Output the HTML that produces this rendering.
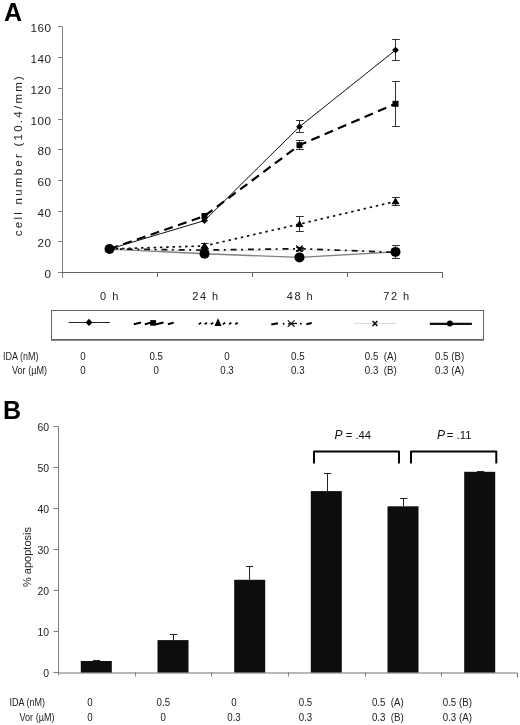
<!DOCTYPE html>
<html><head><meta charset="utf-8"><style>
html,body{margin:0;padding:0;background:#fff;}
svg{display:block;font-family:"Liberation Sans", sans-serif;filter:grayscale(1);}
text{white-space:pre;}
</style></head><body>
<svg width="520" height="725" viewBox="0 0 520 725" xml:space="preserve">
<rect width="520" height="725" fill="#fff"/>
<text x="4" y="20.8" font-size="25" font-weight="bold" fill="#000">A</text>
<path d="M62.5 26.5 V278.0" stroke="#808080" stroke-width="1" fill="none"/>
<path d="M62 272.5 H442.5 V278.0" stroke="#606060" stroke-width="1" fill="none"/>
<path d="M58 272.5 H62" stroke="#808080" stroke-width="1"/>
<text x="51.3" y="278.1" font-size="11.7" text-anchor="end" letter-spacing="0.4" fill="#222">0</text>
<path d="M58 241.5 H62" stroke="#808080" stroke-width="1"/>
<text x="51.3" y="247.1" font-size="11.7" text-anchor="end" letter-spacing="0.4" fill="#222">20</text>
<path d="M58 211.5 H62" stroke="#808080" stroke-width="1"/>
<text x="51.3" y="217.1" font-size="11.7" text-anchor="end" letter-spacing="0.4" fill="#222">40</text>
<path d="M58 180.5 H62" stroke="#808080" stroke-width="1"/>
<text x="51.3" y="186.1" font-size="11.7" text-anchor="end" letter-spacing="0.4" fill="#222">60</text>
<path d="M58 149.5 H62" stroke="#808080" stroke-width="1"/>
<text x="51.3" y="155.1" font-size="11.7" text-anchor="end" letter-spacing="0.4" fill="#222">80</text>
<path d="M58 119.5 H62" stroke="#808080" stroke-width="1"/>
<text x="51.3" y="125.1" font-size="11.7" text-anchor="end" letter-spacing="0.4" fill="#222">100</text>
<path d="M58 88.5 H62" stroke="#808080" stroke-width="1"/>
<text x="51.3" y="94.1" font-size="11.7" text-anchor="end" letter-spacing="0.4" fill="#222">120</text>
<path d="M58 57.5 H62" stroke="#808080" stroke-width="1"/>
<text x="51.3" y="63.1" font-size="11.7" text-anchor="end" letter-spacing="0.4" fill="#222">140</text>
<path d="M58 26.5 H62" stroke="#808080" stroke-width="1"/>
<text x="51.3" y="32.1" font-size="11.7" text-anchor="end" letter-spacing="0.4" fill="#222">160</text>
<path d="M157.5 272.0 V277.0" stroke="#606060" stroke-width="1"/>
<path d="M252.5 272.0 V277.0" stroke="#606060" stroke-width="1"/>
<path d="M347.5 272.0 V277.0" stroke="#606060" stroke-width="1"/>
<text x="110" y="299.8" font-size="11" text-anchor="middle" letter-spacing="1.5" fill="#222">0 h</text>
<text x="206" y="299.8" font-size="11" text-anchor="middle" letter-spacing="1.5" fill="#222">24 h</text>
<text x="300.5" y="299.8" font-size="11" text-anchor="middle" letter-spacing="1.5" fill="#222">48 h</text>
<text x="397" y="299.8" font-size="11" text-anchor="middle" letter-spacing="1.5" fill="#222">72 h</text>
<text transform="translate(21.5,155) rotate(-90)" font-size="11.5" text-anchor="middle" letter-spacing="2.25" fill="#222">cell number (10.4/mm)</text>
<polyline points="109.5,249.0 204.5,253.7 299.5,257.4 395.5,251.9" fill="none" stroke="#808080" stroke-width="1.4"/>
<polyline points="109.5,249.0 204.5,251.3 299.5,249.8 395.5,251.3" fill="none" stroke="#ddd" stroke-width="1"/>
<polyline points="109.5,249.0 204.5,250.1 299.5,248.7 395.5,252.4" fill="none" stroke="#111" stroke-width="1.7" stroke-dasharray="6 4.5 2 4.8"/>
<polyline points="109.5,249.0 204.5,245.9 299.5,224.1 395.5,201.4" fill="none" stroke="#111" stroke-width="1.7" stroke-dasharray="2.5 3.8"/>
<polyline points="109.5,249.0 204.5,216.0 299.5,145.1 395.5,103.8" fill="none" stroke="#000" stroke-width="2.2" stroke-dasharray="9 5.5"/>
<polyline points="109.5,249.0 204.5,220.6 299.5,126.7 395.5,50.1" fill="none" stroke="#111" stroke-width="1"/>
<path d="M299.5 120.5 V132.5 M295.9 120.5 H303.8 M295.9 132.5 H303.8" stroke="#333" stroke-width="1"/>
<path d="M395.5 39.5 V60.5 M391.9 39.5 H399.8 M391.9 60.5 H399.8" stroke="#333" stroke-width="1"/>
<path d="M299.5 140.5 V149.5 M295.9 140.5 H303.8 M295.9 149.5 H303.8" stroke="#333" stroke-width="1"/>
<path d="M395.5 81.5 V126.5 M391.9 81.5 H399.8 M391.9 126.5 H399.8" stroke="#333" stroke-width="1"/>
<path d="M204.5 243.5 V248.5 M200.9 243.5 H208.8 M200.9 248.5 H208.8" stroke="#333" stroke-width="1"/>
<path d="M299.5 216.5 V231.5 M295.9 216.5 H303.8 M295.9 231.5 H303.8" stroke="#333" stroke-width="1"/>
<path d="M395.5 197.5 V205.5 M391.9 197.5 H399.8 M391.9 205.5 H399.8" stroke="#333" stroke-width="1"/>
<path d="M299.5 247.5 V250.5 M295.9 247.5 H303.8 M295.9 250.5 H303.8" stroke="#333" stroke-width="1"/>
<path d="M204.5 251.5 V256.5 M200.9 251.5 H208.8 M200.9 256.5 H208.8" stroke="#333" stroke-width="1"/>
<path d="M299.5 255.5 V259.5 M295.9 255.5 H303.8 M295.9 259.5 H303.8" stroke="#333" stroke-width="1"/>
<path d="M395.5 245.5 V258.5 M391.9 245.5 H399.8 M391.9 258.5 H399.8" stroke="#333" stroke-width="1"/>
<circle cx="109.5" cy="249.0" r="5.0" fill="#000"/>
<circle cx="204.5" cy="253.7" r="5.0" fill="#000"/>
<circle cx="299.5" cy="257.4" r="5.0" fill="#000"/>
<circle cx="395.5" cy="251.9" r="5.0" fill="#000"/>
<path d="M107.5 247.0 L111.5 251.0 M111.5 247.0 L107.5 251.0" stroke="#000" stroke-width="1.2"/>
<path d="M202.5 249.3 L206.5 253.3 M206.5 249.3 L202.5 253.3" stroke="#000" stroke-width="1.2"/>
<path d="M297.5 247.8 L301.5 251.8 M301.5 247.8 L297.5 251.8" stroke="#000" stroke-width="1.2"/>
<path d="M393.5 249.3 L397.5 253.3 M397.5 249.3 L393.5 253.3" stroke="#000" stroke-width="1.2"/>
<path d="M106.3 245.8 L112.7 252.2 M112.7 245.8 L106.3 252.2" stroke="#000" stroke-width="1.2"/>
<path d="M201.3 246.9 L207.7 253.29999999999998 M207.7 246.9 L201.3 253.29999999999998" stroke="#000" stroke-width="1.2"/>
<path d="M296.3 245.5 L302.7 251.89999999999998 M302.7 245.5 L296.3 251.89999999999998" stroke="#000" stroke-width="1.2"/>
<path d="M392.3 249.20000000000002 L398.7 255.6 M398.7 249.20000000000002 L392.3 255.6" stroke="#000" stroke-width="1.2"/>
<path d="M109.5 245.2 L113.5 251.8 L105.5 251.8 Z" fill="#000"/>
<path d="M204.5 242.1 L208.5 248.70000000000002 L200.5 248.70000000000002 Z" fill="#000"/>
<path d="M299.5 220.29999999999998 L303.5 226.9 L295.5 226.9 Z" fill="#000"/>
<path d="M395.5 197.6 L399.5 204.20000000000002 L391.5 204.20000000000002 Z" fill="#000"/>
<rect x="106.5" y="246.0" width="6.0" height="6.0" fill="#000"/>
<rect x="201.5" y="213.0" width="6.0" height="6.0" fill="#000"/>
<rect x="296.5" y="142.1" width="6.0" height="6.0" fill="#000"/>
<rect x="392.5" y="100.8" width="6.0" height="6.0" fill="#000"/>
<path d="M109.5 245.6 L112.9 249.0 L109.5 252.4 L106.1 249.0 Z" fill="#000"/>
<path d="M204.5 217.2 L207.9 220.6 L204.5 224.0 L201.1 220.6 Z" fill="#000"/>
<path d="M299.5 123.3 L302.9 126.7 L299.5 130.1 L296.1 126.7 Z" fill="#000"/>
<path d="M395.5 46.7 L398.9 50.1 L395.5 53.5 L392.1 50.1 Z" fill="#000"/>
<rect x="51.5" y="310.5" width="432" height="29" fill="none" stroke="#666" stroke-width="1"/>
<path d="M51 340.5 H484" stroke="#888" stroke-width="1"/>
<path d="M68.7 322.5 H109.9" stroke="#222" stroke-width="1"/>
<path d="M89 318.8 L92.4 322.4 L89 326 L85.6 322.4 Z" fill="#000"/>
<path d="M133.8 324.2 L141 322.6" stroke="#000" stroke-width="2" stroke-linecap="butt"/>
<path d="M144.8 324.2 L151 322.6" stroke="#000" stroke-width="2" stroke-linecap="butt"/>
<path d="M156 324.2 L163.6 322.6" stroke="#000" stroke-width="2" stroke-linecap="butt"/>
<path d="M167.9 324.2 L173.7 322.6" stroke="#000" stroke-width="2" stroke-linecap="butt"/>
<rect x="150.2" y="320.1" width="5.8" height="5.6" fill="#000"/>
<path d="M198.8 324.2 L201.20000000000002 322.8" stroke="#000" stroke-width="1.8"/>
<path d="M204.6 324.2 L207.0 322.8" stroke="#000" stroke-width="1.8"/>
<path d="M210.8 324.2 L213.20000000000002 322.8" stroke="#000" stroke-width="1.8"/>
<path d="M222.8 324.2 L225.20000000000002 322.8" stroke="#000" stroke-width="1.8"/>
<path d="M229 324.2 L231.4 322.8" stroke="#000" stroke-width="1.8"/>
<path d="M235.3 324.2 L237.70000000000002 322.8" stroke="#000" stroke-width="1.8"/>
<path d="M218 318.3 L221.6 326 L214.5 326 Z" fill="#000"/>
<path d="M271.3 324.4 L278 323.2" stroke="#000" stroke-width="2"/>
<path d="M282.8 324 L284.4 323.6" stroke="#000" stroke-width="1.8"/>
<path d="M288 323.8 L297 323.4" stroke="#000" stroke-width="1.3"/>
<path d="M300.1 323.9 L301.7 323.5" stroke="#000" stroke-width="1.8"/>
<path d="M306.4 324.3 L311.7 323.1" stroke="#000" stroke-width="2"/>
<path d="M287.8 320.4 L294.6 326.8 M294.6 320.4 L287.8 326.8" stroke="#111" stroke-width="1.2"/>
<path d="M354.3 323.4 H396.2" stroke="#d8d8d8" stroke-width="1"/>
<path d="M372.6 321 L377.4 326 M377.4 321 L372.6 326" stroke="#111" stroke-width="1.6"/>
<path d="M429.8 323.9 H471.9" stroke="#111" stroke-width="2.2"/>
<circle cx="449.9" cy="323.6" r="3" fill="#000"/>
<text x="3" y="359.5" font-size="10.8" fill="#222" textLength="35.5" lengthAdjust="spacingAndGlyphs">IDA (nM)</text>
<text x="12" y="374" font-size="10.8" fill="#222" textLength="35" lengthAdjust="spacingAndGlyphs">Vor (µM)</text>
<text transform="translate(83,359.5) scale(0.9,1)" font-size="10.8" fill="#222" text-anchor="middle">0</text>
<text transform="translate(83,374) scale(0.9,1)" font-size="10.8" fill="#222" text-anchor="middle">0</text>
<text transform="translate(156.2,359.5) scale(0.9,1)" font-size="10.8" fill="#222" text-anchor="middle">0.5</text>
<text transform="translate(156.2,374) scale(0.9,1)" font-size="10.8" fill="#222" text-anchor="middle">0</text>
<text transform="translate(227,359.5) scale(0.9,1)" font-size="10.8" fill="#222" text-anchor="middle">0</text>
<text transform="translate(227,374) scale(0.9,1)" font-size="10.8" fill="#222" text-anchor="middle">0.3</text>
<text transform="translate(297.8,359.5) scale(0.9,1)" font-size="10.8" fill="#222" text-anchor="middle">0.5</text>
<text transform="translate(297.8,374) scale(0.9,1)" font-size="10.8" fill="#222" text-anchor="middle">0.3</text>
<text transform="translate(380.7,359.5) scale(0.9,1)" font-size="10.8" fill="#222" text-anchor="middle">0.5  (A)</text>
<text transform="translate(380.7,374) scale(0.9,1)" font-size="10.8" fill="#222" text-anchor="middle">0.3  (B)</text>
<text transform="translate(449.6,359.5) scale(0.9,1)" font-size="10.8" fill="#222" text-anchor="middle">0.5 (B)</text>
<text transform="translate(449.6,374) scale(0.9,1)" font-size="10.8" fill="#222" text-anchor="middle">0.3 (A)</text>
<text x="3" y="418.9" font-size="25" font-weight="bold" fill="#000">B</text>
<path d="M58.5 426.3 V675.5" stroke="#808080" stroke-width="1" fill="none"/>
<path d="M58 673.0 H517.5 V677.5" stroke="#707070" stroke-width="1" fill="none"/>
<path d="M53.5 672.5 H58" stroke="#808080" stroke-width="1"/>
<text transform="translate(49,676.8) scale(0.9,1)" font-size="11.6" text-anchor="end" fill="#222">0</text>
<path d="M53.5 631.5 H58" stroke="#808080" stroke-width="1"/>
<text transform="translate(49,635.8) scale(0.9,1)" font-size="11.6" text-anchor="end" fill="#222">10</text>
<path d="M53.5 590.5 H58" stroke="#808080" stroke-width="1"/>
<text transform="translate(49,594.8) scale(0.9,1)" font-size="11.6" text-anchor="end" fill="#222">20</text>
<path d="M53.5 549.5 H58" stroke="#808080" stroke-width="1"/>
<text transform="translate(49,553.8) scale(0.9,1)" font-size="11.6" text-anchor="end" fill="#222">30</text>
<path d="M53.5 508.5 H58" stroke="#808080" stroke-width="1"/>
<text transform="translate(49,512.8) scale(0.9,1)" font-size="11.6" text-anchor="end" fill="#222">40</text>
<path d="M53.5 467.5 H58" stroke="#808080" stroke-width="1"/>
<text transform="translate(49,471.8) scale(0.9,1)" font-size="11.6" text-anchor="end" fill="#222">50</text>
<path d="M53.5 426.5 H58" stroke="#808080" stroke-width="1"/>
<text transform="translate(49,430.8) scale(0.9,1)" font-size="11.6" text-anchor="end" fill="#222">60</text>
<path d="M135.5 672.5 V676.5" stroke="#808080" stroke-width="1"/>
<path d="M211.5 672.5 V676.5" stroke="#808080" stroke-width="1"/>
<path d="M288.5 672.5 V676.5" stroke="#808080" stroke-width="1"/>
<path d="M365.5 672.5 V676.5" stroke="#808080" stroke-width="1"/>
<path d="M441.5 672.5 V676.5" stroke="#808080" stroke-width="1"/>
<text transform="translate(31.1,557) rotate(-90)" font-size="11" text-anchor="middle" fill="#222">% apoptosis</text>
<rect x="80.8" y="661.0" width="31" height="11.5" fill="#0d0d0d"/>
<path d="M96.5 660.5 V661.0 M93.0 660.5 H100.3" stroke="#222" stroke-width="1"/>
<rect x="157.5" y="640.1" width="31" height="32.4" fill="#0d0d0d"/>
<path d="M173.5 634.5 V640.1 M170.0 634.5 H177.3" stroke="#222" stroke-width="1"/>
<rect x="234.2" y="579.8" width="31" height="92.7" fill="#0d0d0d"/>
<path d="M249.5 566.5 V579.8 M246.0 566.5 H253.3" stroke="#222" stroke-width="1"/>
<rect x="310.8" y="491.1" width="31" height="181.4" fill="#0d0d0d"/>
<path d="M327.5 473.5 V491.1 M324.0 473.5 H331.3" stroke="#222" stroke-width="1"/>
<rect x="387.5" y="506.3" width="31" height="166.2" fill="#0d0d0d"/>
<path d="M403.5 498.5 V506.3 M400.0 498.5 H407.3" stroke="#222" stroke-width="1"/>
<rect x="464.2" y="471.8" width="31" height="200.7" fill="#0d0d0d"/>
<path d="M480.5 471.5 V471.8 M477.0 471.5 H484.3" stroke="#222" stroke-width="1"/>
<path d="M314 463.5 V451.5 H399 V463.5" fill="none" stroke="#000" stroke-width="2" stroke-linejoin="round"/>
<path d="M411 463.5 V451.5 H496.3 V463.5" fill="none" stroke="#000" stroke-width="2" stroke-linejoin="round"/>
<text x="334.5" y="439.1" font-size="11.3" fill="#111"><tspan font-style="italic" font-size="12">P</tspan> = .44</text>
<text x="437" y="439.2" font-size="11.3" fill="#111"><tspan font-style="italic" font-size="12">P</tspan><tspan dx="1.8">=</tspan> .11</text>
<text x="9.5" y="706.3" font-size="10.8" fill="#222" textLength="35.5" lengthAdjust="spacingAndGlyphs">IDA (nM)</text>
<text x="19.5" y="720.5" font-size="10.8" fill="#222" textLength="35" lengthAdjust="spacingAndGlyphs">Vor (µM)</text>
<text transform="translate(90,706.3) scale(0.9,1)" font-size="10.8" fill="#222" text-anchor="middle">0</text>
<text transform="translate(90,720.5) scale(0.9,1)" font-size="10.8" fill="#222" text-anchor="middle">0</text>
<text transform="translate(163.3,706.3) scale(0.9,1)" font-size="10.8" fill="#222" text-anchor="middle">0.5</text>
<text transform="translate(163.3,720.5) scale(0.9,1)" font-size="10.8" fill="#222" text-anchor="middle">0</text>
<text transform="translate(234,706.3) scale(0.9,1)" font-size="10.8" fill="#222" text-anchor="middle">0</text>
<text transform="translate(234,720.5) scale(0.9,1)" font-size="10.8" fill="#222" text-anchor="middle">0.3</text>
<text transform="translate(305.5,706.3) scale(0.9,1)" font-size="10.8" fill="#222" text-anchor="middle">0.5</text>
<text transform="translate(305.5,720.5) scale(0.9,1)" font-size="10.8" fill="#222" text-anchor="middle">0.3</text>
<text transform="translate(387.8,706.3) scale(0.9,1)" font-size="10.8" fill="#222" text-anchor="middle">0.5  (A)</text>
<text transform="translate(387.8,720.5) scale(0.9,1)" font-size="10.8" fill="#222" text-anchor="middle">0.3  (B)</text>
<text transform="translate(457.3,706.3) scale(0.9,1)" font-size="10.8" fill="#222" text-anchor="middle">0.5 (B)</text>
<text transform="translate(457.3,720.5) scale(0.9,1)" font-size="10.8" fill="#222" text-anchor="middle">0.3 (A)</text>
</svg>
</body></html>
